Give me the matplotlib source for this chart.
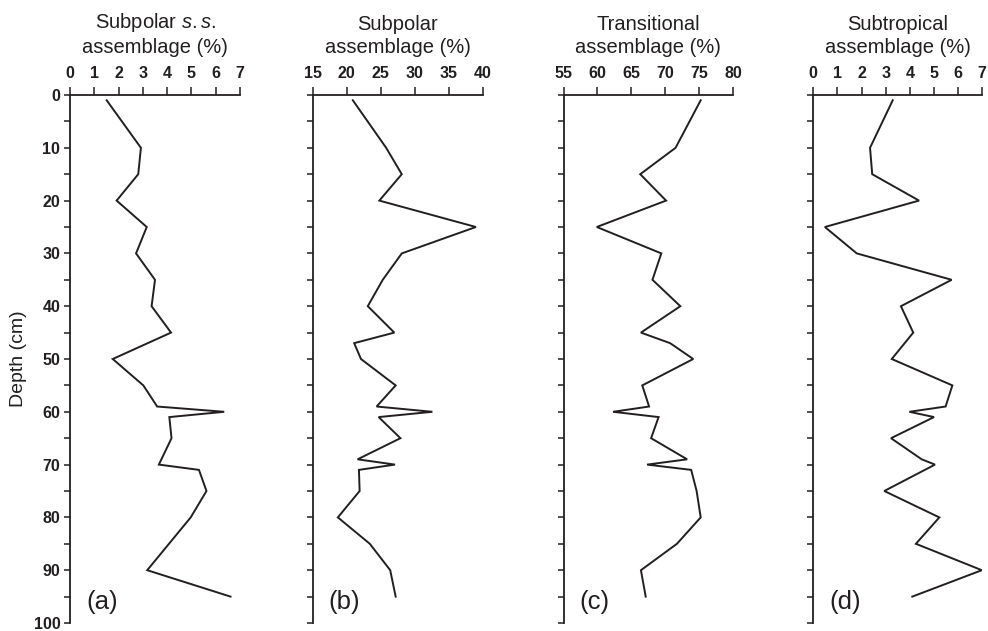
import matplotlib
matplotlib.use("Agg")
import matplotlib.pyplot as plt

plt.rcParams['font.family'] = ['Liberation Sans', 'DejaVu Sans']
plt.rcParams['mathtext.fontset'] = 'custom'
plt.rcParams['mathtext.rm'] = 'Liberation Sans'
plt.rcParams['mathtext.it'] = 'Liberation Sans:italic'

INK = '#231f20'

# ---- data ----
depth_a = [1, 10, 15, 20, 25, 30, 35, 40, 45, 50, 55, 59, 60, 61, 65, 70, 71, 75, 80, 90, 95]
val_a = [1.51, 2.92, 2.81, 1.92, 3.16, 2.72, 3.50, 3.36, 4.16, 1.76, 3.02, 3.59, 6.35, 4.09,
         4.18, 3.66, 5.31, 5.62, 4.97, 3.18, 6.61]

depth_b = [1, 10, 15, 20, 25, 30, 35, 40, 45, 47, 50, 55, 59, 60, 61, 65, 69, 70, 71, 75, 80, 85, 90, 95]
val_b = [20.9, 25.8, 28.1, 24.8, 39.0, 28.1, 25.3, 23.1, 27.0, 21.1, 22.1, 27.2, 24.4, 32.6,
         24.7, 27.9, 21.6, 27.1, 21.8, 21.9, 18.7, 23.4, 26.4, 27.2]

depth_c = [1, 10, 15, 20, 25, 30, 35, 40, 45, 47, 50, 55, 59, 60, 61, 65, 69, 70, 71, 75, 80, 85, 90, 95]
val_c = [75.2, 71.5, 66.3, 70.1, 59.9, 69.4, 68.1, 72.2, 66.4, 70.7, 74.1, 66.6, 67.6, 62.3,
         69.0, 67.9, 73.2, 67.3, 73.8, 74.6, 75.2, 71.7, 66.4, 67.1]

depth_d = [1, 10, 15, 20, 25, 30, 35, 40, 45, 50, 55, 59, 60, 61, 65, 69, 70, 75, 80, 85, 90, 95]
val_d = [3.29, 2.35, 2.44, 4.38, 0.48, 1.80, 5.73, 3.63, 4.14, 3.25, 5.76, 5.48, 3.98, 5.00,
         3.22, 4.49, 5.04, 2.94, 5.22, 4.25, 6.98, 4.10]

titles = ["Subpolar $\\mathit{s.s.}$\nassemblage (%)",
          "Subpolar\nassemblage (%)",
          "Transitional\nassemblage (%)",
          "Subtropical\nassemblage (%)"]
panel_labels = ["(a)", "(b)", "(c)", "(d)"]
xticks_list = [list(range(0, 8)), list(range(15, 41, 5)), list(range(55, 81, 5)), list(range(0, 8))]
depth_ticks = list(range(0, 101, 5))
depth_labels = [str(d) if d % 10 == 0 else "" for d in depth_ticks]

W, H = 988, 631
fig = plt.figure(figsize=(W / 100, H / 100), dpi=100)

lefts_px = [70, 312.7, 563.5, 813.3]
widths_px = [170, 170, 169.8, 169]
top_px, bot_px = 95, 623

series = [(depth_a, val_a), (depth_b, val_b), (depth_c, val_c), (depth_d, val_d)]

for i in range(4):
    ax = fig.add_axes([lefts_px[i] / W, 1 - bot_px / H, widths_px[i] / W, (bot_px - top_px) / H])
    d, v = series[i]
    ax.plot(v, d, color=INK, lw=1.4, solid_joinstyle='miter')
    xt = xticks_list[i]
    ax.set_xlim(xt[0], xt[-1])
    ax.set_ylim(100, 0)
    ax.xaxis.tick_top()
    ax.set_xticks(xt)
    ax.set_xticklabels([str(t) for t in xt], fontweight='bold', fontsize=11.5, color=INK)
    ax.set_yticks(depth_ticks)
    if i == 0:
        ax.set_yticklabels(depth_labels, fontweight='bold', fontsize=11.5, color=INK)
        ax.set_ylabel("Depth (cm)", fontsize=14, color=INK, labelpad=5)
    else:
        ax.set_yticklabels([])
    ax.tick_params(axis='x', direction='out', length=6, width=1.1, color=INK, pad=4)
    ax.tick_params(axis='y', direction='out', length=4, width=1.1, color=INK, pad=3)
    for s in ['right', 'bottom']:
        ax.spines[s].set_visible(False)
    for s in ['left', 'top']:
        ax.spines[s].set_linewidth(1.3)
        ax.spines[s].set_color(INK)
    ax.patch.set_alpha(0)
    ax.text(0.095, 0.04, panel_labels[i], transform=ax.transAxes, fontsize=18.5,
            ha='left', va='center', color=INK)
    cx = (lefts_px[i] + widths_px[i] / 2) / W
    fig.text(cx, 1 - 57 / H, titles[i], ha='center', va='bottom', fontsize=14.5,
             color=INK, linespacing=1.3, multialignment='center')

fig.savefig("out.png", dpi=100)
